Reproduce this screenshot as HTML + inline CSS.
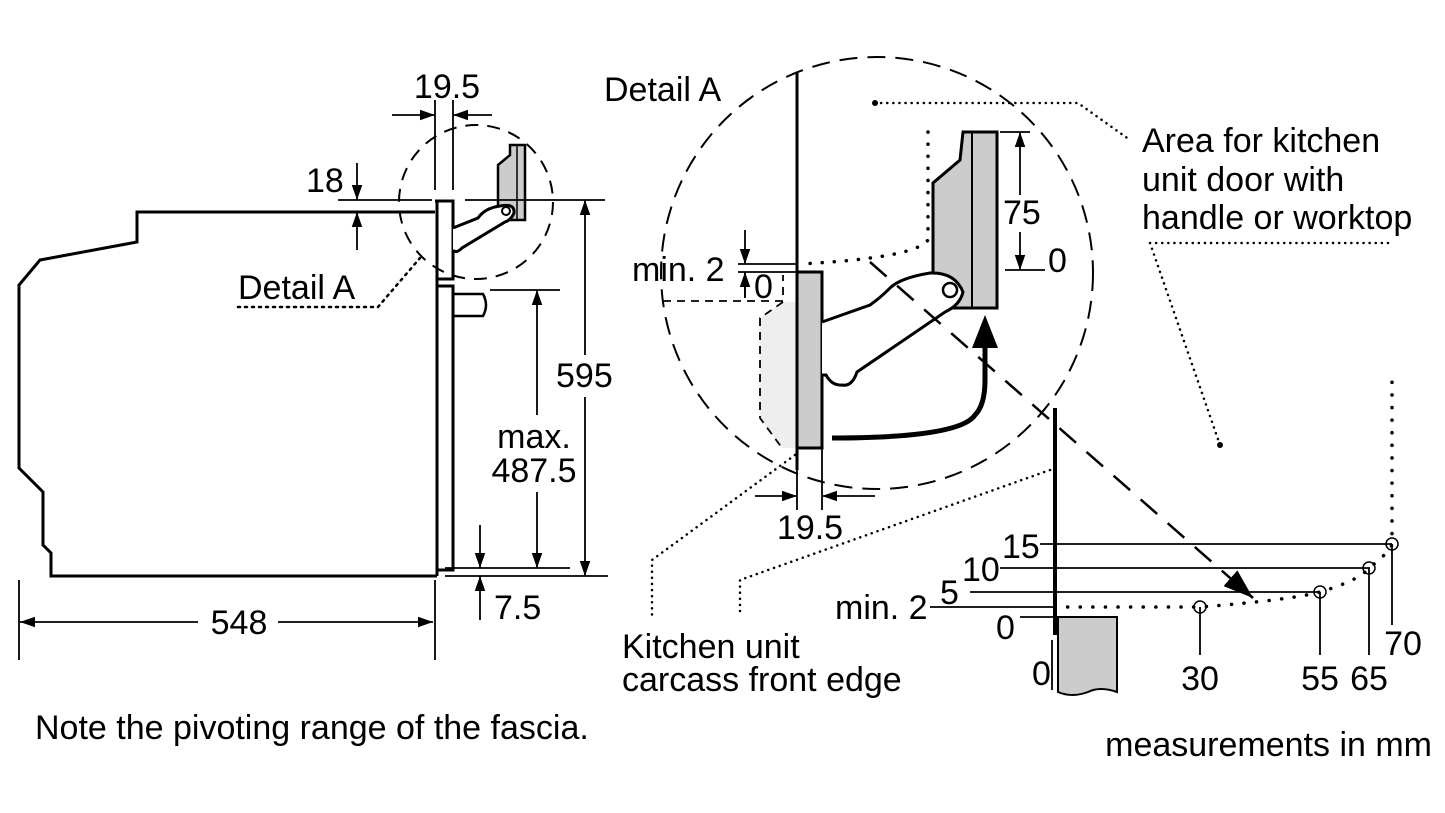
<!DOCTYPE html>
<html><head><style>body{margin:0;background:#fff}svg{display:block}text{font-family:"Liberation Sans",Arial,sans-serif;font-size:34px;fill:#000}</style></head><body>
<svg width="1445" height="813" viewBox="0 0 1445 813" xmlns="http://www.w3.org/2000/svg">
<defs><marker id="a" viewBox="0 0 10 10" refX="10" refY="5" markerWidth="15" markerHeight="15" markerUnits="userSpaceOnUse" orient="auto"><path d="M0,1.5 L10,5 L0,8.5z"/></marker>
<marker id="b" viewBox="0 0 10 10" refX="10" refY="5" markerWidth="30" markerHeight="30" markerUnits="userSpaceOnUse" orient="auto"><path d="M0,1.5 L10,5 L0,8.5z"/></marker></defs>
<g fill="none" stroke="#000">
<polyline stroke-width="3" points="435,212 137,212 137,242 40,260 19,285 19,468 43,492 43,545 51,553 51,576 437,576"/>
<path stroke-width="3" d="M435,201 H453 V279 H437 M437,201 V576 M437,286 H453 V570 H437"/>
<path stroke-width="2.5" d="M453,294 H483 Q489,305 483,316 H453"/>
<circle cx="476" cy="202" r="77" stroke-width="2" stroke-dasharray="13,9"/>
<path d="M498,200 V165 L510,155 V145 H525 V220 H498z" fill="#ccc" stroke-width="2.5"/>
<line x1="517" y1="145" x2="517" y2="220" stroke-width="1.5"/>
<path stroke-width="3" fill="#fff" d="M453,228 L478,218 Q485,208 500,206 Q515,203 514,213 Q511,220 505,222 L462,248 Q456,254 453,250"/>
<circle cx="506" cy="211" r="4" stroke-width="2"/>
<g stroke-width="1.8">
<path d="M435,100 V190 M453,100 V190 M338,200 H432 M338,212 H432 M465,200 H605 M445,576 H608 M490,290 H560 M445,568 H570 M19,580 V660 M435,580 V660"/>
<line x1="392" y1="115" x2="435" y2="115" marker-end="url(#a)"/>
<line x1="492" y1="115" x2="453" y2="115" marker-end="url(#a)"/>
<line x1="357" y1="163" x2="357" y2="200" marker-end="url(#a)"/>
<line x1="357" y1="250" x2="357" y2="212" marker-end="url(#a)"/>
<line x1="585" y1="355" x2="585" y2="200" marker-end="url(#a)"/>
<line x1="585" y1="397" x2="585" y2="576" marker-end="url(#a)"/>
<line x1="537" y1="415" x2="537" y2="290" marker-end="url(#a)"/>
<line x1="537" y1="492" x2="537" y2="568" marker-end="url(#a)"/>
<line x1="480" y1="525" x2="480" y2="568" marker-end="url(#a)"/>
<line x1="480" y1="620" x2="480" y2="576" marker-end="url(#a)"/>
<line x1="198" y1="622" x2="20" y2="622" marker-end="url(#a)"/>
<line x1="278" y1="622" x2="433" y2="622" marker-end="url(#a)"/>
</g>
<path d="M238,307 H378 L420,258" stroke-width="2.5" stroke-dasharray="2,5" stroke-linecap="round"/>
<circle cx="877" cy="273" r="216" stroke-width="2" stroke-dasharray="18,10"/>
<path d="M760,318 L783,302 H797 V448 H782 L760,418z" fill="#eee" stroke="none"/>
<path d="M663,301 H783 V275 M783,302 L760,318 V418 L782,448" stroke-width="1.8" stroke-dasharray="8,6"/>
<line x1="797" y1="72" x2="797" y2="470" stroke-width="3"/>
<rect x="797" y="272" width="25" height="176" fill="#ccc" stroke-width="3"/>
<path d="M963,132 H997 V308 H933 V183 L960,160z" fill="#ccc" stroke-width="3"/>
<line x1="972" y1="132" x2="972" y2="308" stroke-width="2"/>
<path d="M928,132 V240 Q915,258 800,264" stroke-width="3.5" stroke-dasharray="0.1,12" stroke-linecap="round"/>
<path d="M822,322 L870,305 Q880,298 890,288 Q900,278 930,273 Q955,272 963,292 Q960,305 945,312 L857,372 Q852,387 842,385 Q832,386 826,375 H822" fill="#fff" stroke-width="3"/>
<circle cx="950" cy="290" r="7" stroke-width="2.5"/>
<path d="M832,438 Q960,438 975,415 Q985,405 985,380 V335" stroke-width="5"/>
<path d="M972,348 L985,315 L998,348z" fill="#000" stroke="none"/>
<line x1="870" y1="262" x2="1253" y2="598" stroke-width="2.5" stroke-dasharray="22,14" marker-end="url(#b)"/>
<g stroke-width="1.8">
<path d="M1000,132 H1030 M1005,270 H1045 M738,264 H797 M738,272 H797 M745,272 V298 M797,448 V510 M822,448 V510"/>
<line x1="1020" y1="195" x2="1020" y2="132" marker-end="url(#a)"/>
<line x1="1020" y1="232" x2="1020" y2="270" marker-end="url(#a)"/>
<line x1="745" y1="230" x2="745" y2="264" marker-end="url(#a)"/>
<line x1="745" y1="298" x2="745" y2="272" marker-end="url(#a)"/>
<line x1="755" y1="496" x2="797" y2="496" marker-end="url(#a)"/>
<line x1="875" y1="496" x2="822" y2="496" marker-end="url(#a)"/>
</g>
<g stroke-width="2.5" stroke-dasharray="0.1,6" stroke-linecap="round">
<path d="M875,103 H1078 L1130,140"/>
<path d="M1150,243 H1390 M1150,243 L1220,445"/>
<path d="M795,455 L652,560 V615"/>
<path d="M1050,470 L740,580 V615"/>
</g>
<circle cx="875" cy="103" r="3" fill="#000" stroke="none"/>
<circle cx="1220" cy="445" r="3" fill="#000" stroke="none"/>
<line x1="1055" y1="408" x2="1055" y2="635" stroke-width="4"/>
<path d="M1058,617 H1117 V692 Q1100,686 1088,692 Q1072,698 1058,692z" fill="#ccc" stroke-width="2"/>
<g stroke-width="1.8"><path d="M1040,544 H1392 M1000,568 H1370 M970,592 H1320 M930,607 H1055 M1020,617 H1055 M1200,607 V655 M1320,592 V655 M1369,568 V655 M1392,544 V625 M1052,640 V690"/></g>
<path d="M1055,607 H1200 Q1290,600 1320,592 Q1360,580 1369,568 Q1392,550 1392,544 V370" stroke-width="3.5" stroke-dasharray="0.1,12.5" stroke-linecap="round"/>
<g stroke-width="1.5"><circle cx="1200" cy="607" r="6"/><circle cx="1320" cy="592" r="6"/><circle cx="1369" cy="568" r="6"/><circle cx="1392" cy="544" r="6"/></g>
</g>
<text x="447" y="98" text-anchor="middle">19.5</text>
<text x="306" y="192">18</text>
<text x="238" y="299">Detail A</text>
<text x="556" y="387">595</text>
<text x="534" y="448" text-anchor="middle">max.</text>
<text x="534" y="482" text-anchor="middle">487.5</text>
<text x="494" y="619">7.5</text>
<text x="239" y="634" text-anchor="middle">548</text>
<text x="604" y="101">Detail A</text>
<text x="1142" y="152">Area for kitchen</text>
<text x="1142" y="191">unit door with</text>
<text x="1142" y="229">handle or worktop</text>
<text x="1003" y="224">75</text>
<text x="1048" y="272">0</text>
<text x="632" y="281">min. 2</text>
<text x="754" y="298">0</text>
<text x="810" y="539" text-anchor="middle">19.5</text>
<text x="622" y="658">Kitchen unit</text>
<text x="622" y="691">carcass front edge</text>
<text x="1002" y="558">15</text>
<text x="962" y="581">10</text>
<text x="940" y="604">5</text>
<text x="835" y="619">min. 2</text>
<text x="996" y="639">0</text>
<text x="1032" y="685">0</text>
<text x="1200" y="690" text-anchor="middle">30</text>
<text x="1320" y="690" text-anchor="middle">55</text>
<text x="1369" y="690" text-anchor="middle">65</text>
<text x="1403" y="655" text-anchor="middle">70</text>
<text x="35" y="739">Note the pivoting range of the fascia.</text>
<text x="1432" y="756" text-anchor="end">measurements in mm</text>
</svg>
</body></html>
